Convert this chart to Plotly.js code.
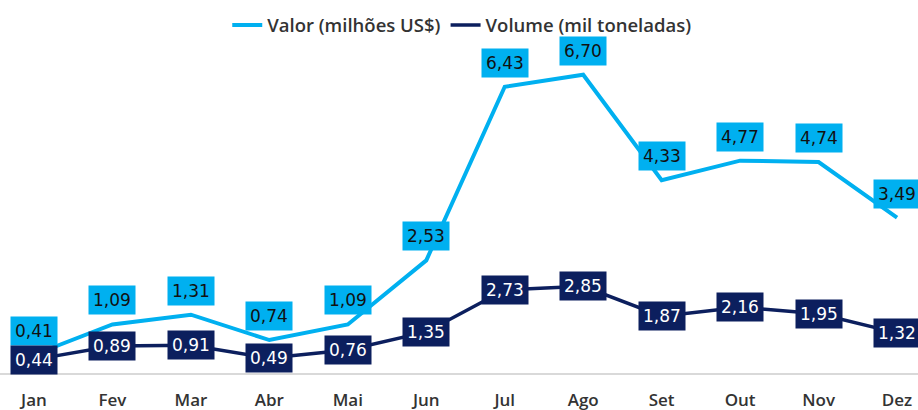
<!DOCTYPE html>
<html>
<head>
<meta charset="utf-8">
<script src="https://cdn.plot.ly/plotly-3.0.1.min.js"></script>
<style>
html,body{margin:0;padding:0;background:#fff;}
#chart{width:918px;height:410px;}
</style>
</head>
<body>
<div id="chart"></div>
<script>
var months = ["Jan","Fev","Mar","Abr","Mai","Jun","Jul","Ago","Set","Out","Nov","Dez"];
var valor = [0.41,1.09,1.31,0.74,1.09,2.53,6.43,6.70,4.33,4.77,4.74,3.49];
var volume = [0.44,0.89,0.91,0.49,0.76,1.35,2.73,2.85,1.87,2.16,1.95,1.32];
var nameValor = "Valor (milhões US$)";
var nameVolume = "Volume (mil toneladas)";

var lightBlue = "#00B0F0";
var navy = "#0C1F5E";

function fmt(v){ return v.toFixed(2).replace(".", ","); }

var traces = [
  {x: months, y: valor, name: nameValor, type: "scatter", mode: "lines",
   line: {color: lightBlue, width: 4}, yaxis: "y", hoverinfo: "skip"},
  {x: months, y: volume, name: nameVolume, type: "scatter", mode: "lines",
   line: {color: navy, width: 3.5}, yaxis: "y2", hoverinfo: "skip"}
];

var annotations = [];
months.forEach(function(m, i){
  annotations.push({x: m, y: valor[i], xref: "x", yref: "y", text: fmt(valor[i]),
    showarrow: false, yshift: 24, bgcolor: lightBlue, borderpad: 4,
    font: {family: "DejaVu Sans", size: 17, color: "#111111"}});
});
months.forEach(function(m, i){
  annotations.push({x: m, y: volume[i], xref: "x", yref: "y2", text: fmt(volume[i]),
    showarrow: false, bgcolor: navy, borderpad: 4,
    font: {family: "DejaVu Sans", size: 17, color: "#ffffff"}});
});

var layout = {
  width: 918, height: 410,
  margin: {l: 0, r: 0, t: 0, b: 37, pad: 0},
  paper_bgcolor: "#ffffff", plot_bgcolor: "#ffffff",
  showlegend: true,
  legend: {orientation: "h", x: 0.503, xanchor: "center", y: 0.932, yanchor: "middle",
    font: {family: "Open Sans", size: 18.5, color: "#333333", weight: 600},
    bgcolor: "rgba(0,0,0,0)", itemwidth: 30, traceorder: "normal"},
  xaxis: {type: "category", range: [-0.433, 11.267], showgrid: false, zeroline: false,
    showline: true, linecolor: "#D9D9D9", linewidth: 2, ticks: "",
    ticklabelstandoff: 11,
    tickfont: {family: "Open Sans", size: 17, color: "#333333", weight: 600}},
  yaxis: {range: [0, 8.38], visible: false, showgrid: false, zeroline: false},
  yaxis2: {range: [0, 12.27], overlaying: "y", side: "right", visible: false,
    showgrid: false, zeroline: false},
  annotations: annotations
};

Plotly.newPlot("chart", traces, layout, {displayModeBar: false, staticPlot: true});
</script>
</body>
</html>
